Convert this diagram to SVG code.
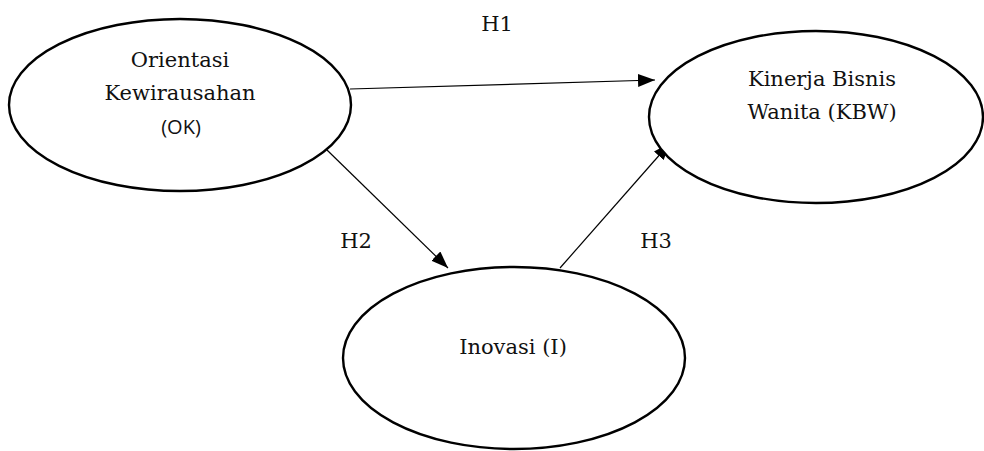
<svg xmlns="http://www.w3.org/2000/svg" width="984" height="451" viewBox="0 0 984 451">
<style>
.node{fill:#fff;stroke:#000;stroke-width:2.4}
.t{font-family:"DejaVu Serif","Liberation Serif",serif;font-size:21px;fill:#111;text-anchor:middle}
.s{font-family:"Open Sans","Liberation Sans",sans-serif;font-size:20px;fill:#111;text-anchor:middle}
.e{stroke:#000;stroke-width:1.2;fill:none}
</style>
<defs>
<marker id="ah" viewBox="0 0 17 13" refX="17" refY="6.5" markerWidth="17" markerHeight="13" markerUnits="userSpaceOnUse" orient="auto">
<path d="M0,0 L17,6.5 L0,13 Z" fill="#000"/>
</marker>
</defs>
<rect width="984" height="451" fill="#fff"/>
<g id="connectors">
<line class="e" x1="350" y1="89" x2="655" y2="80" marker-end="url(#ah)"/>
<line class="e" x1="327" y1="150" x2="448" y2="268" marker-end="url(#ah)"/>
<line class="e" x1="560" y1="268" x2="670" y2="143" marker-end="url(#ah)"/>
<text class="t" x="497" y="31">H1</text>
<text class="t" x="356" y="248">H2</text>
<text class="t" x="656" y="248">H3</text>
</g>
<g id="node-ok">
<ellipse class="node" cx="180" cy="105" rx="171" ry="86"/>
<text class="t" x="180" y="67">Orientasi</text>
<text class="t" x="180" y="100">Kewirausahan</text>
<text class="s" x="181" y="134">(OK)</text>
</g>
<g id="node-kbw">
<ellipse class="node" cx="816" cy="117" rx="167" ry="86"/>
<text class="t" x="822" y="86">Kinerja Bisnis</text>
<text class="t" x="822" y="119">Wanita (KBW)</text>
</g>
<g id="node-i">
<ellipse class="node" cx="514" cy="358" rx="171" ry="91"/>
<text class="t" x="513" y="354">Inovasi (I)</text>
</g>
</svg>
